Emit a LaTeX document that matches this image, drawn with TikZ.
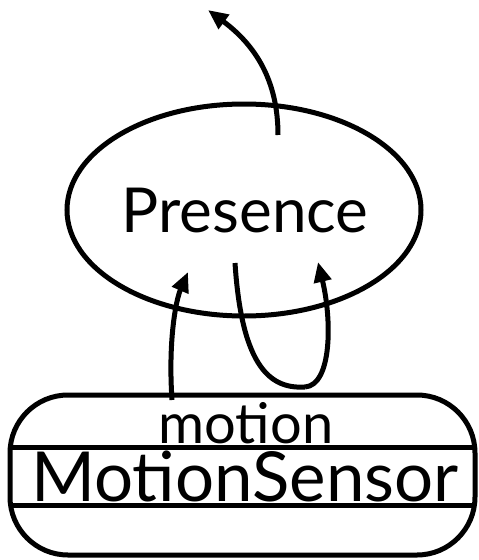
\documentclass[tikz,border=0pt]{standalone}
\usepackage{fontspec}
\setmainfont{Lato}
\usetikzlibrary{arrows.meta,shapes.geometric}
\begin{document}
\begin{tikzpicture}[x=1pt,y=-1pt,line width=5pt,
  arr/.style={-{Triangle[length=20pt,width=17pt]}},
  lbl/.style={inner sep=0pt,anchor=base}]
\useasboundingbox (0,0) rectangle (479,560);
\node[ellipse,draw,minimum width=354pt,minimum height=212pt,inner sep=0pt] (pres) at (244,210) {};
\node[lbl,font=\fontsize{62}{62}\selectfont] (ptext) at (245,232) {Presence};
\draw[rounded corners=58pt] (10,395) rectangle (475,555);
\begin{scope}
\clip[rounded corners=58pt] (10,395) rectangle (475,555);
\draw (0,447) -- (479,447);
\draw (0,505) -- (479,505);
\end{scope}
\node[lbl,font=\fontsize{56}{56}\selectfont] (mot) at (246,443) {motion};
\node[lbl,font=\fontsize{69}{69}\selectfont] (ms) at (245,501) {MotionSensor};
\coordinate (a0) at (278,135);
\coordinate (a1) at (208,10);
\draw[arr] (a0) .. controls (278,80) and (255,45) .. (a1);
\coordinate (b0) at (172,400);
\coordinate (b1) at (188,272);
\draw[arr] (b0) .. controls (168,340) and (176,300) .. (b1);
\coordinate (c0) at (235,263);
\coordinate (cm) at (305,387);
\coordinate (c1) at (318,262);
\draw (c0) .. controls (242,370) and (272,389) .. (cm);
\draw[arr] (cm) .. controls (332,385) and (332,320) .. (c1);
\end{tikzpicture}
\end{document}
